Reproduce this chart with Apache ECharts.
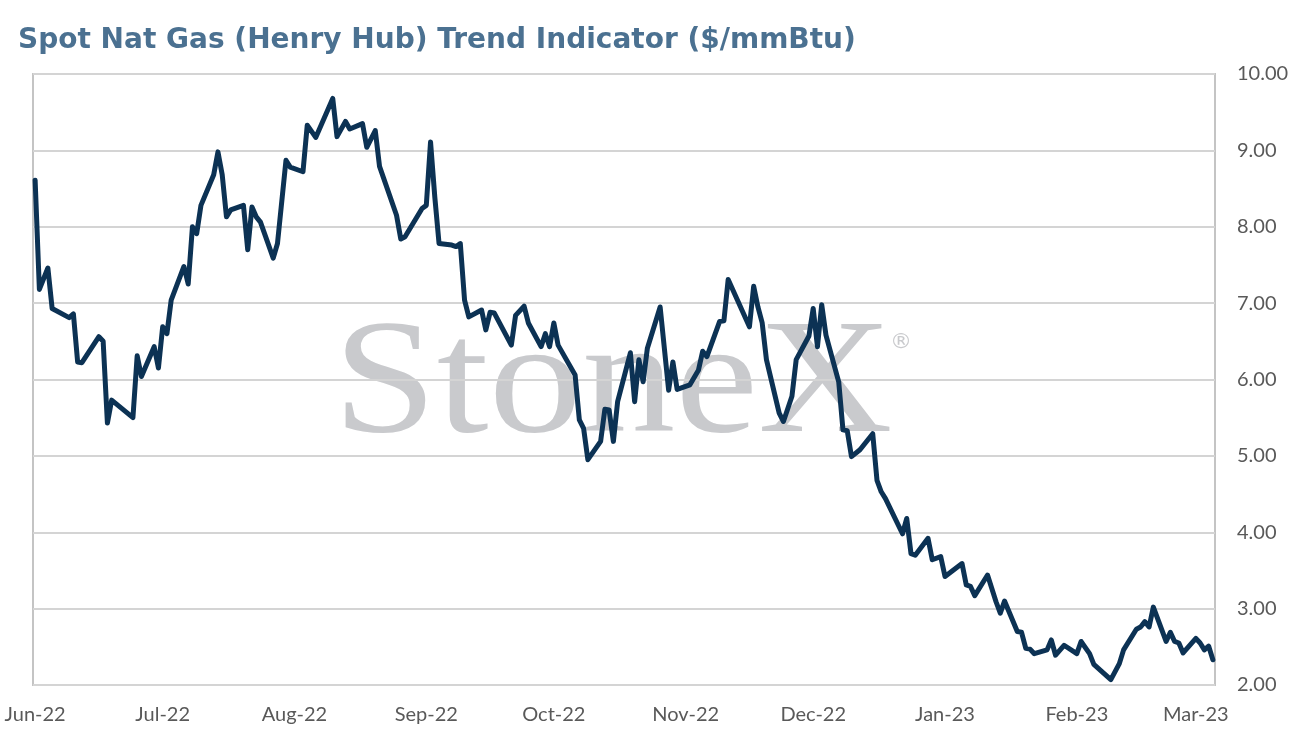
<!DOCTYPE html>
<html>
<head>
<meta charset="utf-8">
<script src="https://cdn.jsdelivr.net/npm/echarts@6/dist/echarts.min.js"></script>
<style>html,body{margin:0;padding:0;background:#fff;}#c{width:1294px;height:744px;}</style>
</head>
<body>
<div id="c"></div>
<script>
const dates = [
'2022-06-01','2022-06-02','2022-06-04','2022-06-05','2022-06-09','2022-06-10','2022-06-11','2022-06-12','2022-06-16','2022-06-17','2022-06-18','2022-06-19','2022-06-24','2022-06-25','2022-06-26','2022-06-29','2022-06-30',
'2022-07-01','2022-07-02','2022-07-03','2022-07-06','2022-07-07','2022-07-08','2022-07-09','2022-07-10','2022-07-13','2022-07-14','2022-07-15','2022-07-16','2022-07-17','2022-07-20','2022-07-21','2022-07-22','2022-07-23','2022-07-24','2022-07-27','2022-07-28','2022-07-30','2022-07-31',
'2022-08-03','2022-08-04','2022-08-06','2022-08-10','2022-08-11','2022-08-13','2022-08-14','2022-08-17','2022-08-18','2022-08-20','2022-08-21','2022-08-25','2022-08-26','2022-08-27','2022-08-31',
'2022-09-01','2022-09-02','2022-09-03','2022-09-04','2022-09-07','2022-09-08','2022-09-09','2022-09-10','2022-09-11','2022-09-14','2022-09-15','2022-09-16','2022-09-17','2022-09-21','2022-09-22','2022-09-24','2022-09-25','2022-09-28','2022-09-29','2022-09-30',
'2022-10-01','2022-10-02','2022-10-06','2022-10-07','2022-10-08','2022-10-09','2022-10-12','2022-10-13','2022-10-14','2022-10-15','2022-10-16','2022-10-19','2022-10-20','2022-10-21','2022-10-22','2022-10-23','2022-10-26','2022-10-28','2022-10-29','2022-10-30',
'2022-11-02','2022-11-04','2022-11-05','2022-11-06','2022-11-09','2022-11-10','2022-11-11','2022-11-16','2022-11-17','2022-11-18','2022-11-19','2022-11-20','2022-11-23','2022-11-24','2022-11-26','2022-11-27','2022-11-30',
'2022-12-01','2022-12-02','2022-12-03','2022-12-04','2022-12-07','2022-12-08','2022-12-09','2022-12-10','2022-12-12','2022-12-15','2022-12-16','2022-12-17','2022-12-18','2022-12-22','2022-12-23','2022-12-24','2022-12-25','2022-12-28','2022-12-29','2022-12-31',
'2023-01-01','2023-01-05','2023-01-06','2023-01-07','2023-01-08','2023-01-11','2023-01-13','2023-01-14','2023-01-15','2023-01-18','2023-01-19','2023-01-20','2023-01-21','2023-01-22','2023-01-25','2023-01-26','2023-01-27','2023-01-29',
'2023-02-01','2023-02-02','2023-02-04','2023-02-05','2023-02-09','2023-02-11','2023-02-12','2023-02-15','2023-02-16','2023-02-17','2023-02-18','2023-02-19','2023-02-22','2023-02-23','2023-02-24','2023-02-25','2023-02-26',
'2023-03-01','2023-03-02','2023-03-03','2023-03-04','2023-03-05'
];
const prices = [
8.61,7.18,7.46,6.93,6.81,6.86,6.23,6.22,6.56,6.50,5.43,5.73,5.50,6.31,6.04,6.43,6.15,
6.69,6.60,7.04,7.48,7.25,8.00,7.91,8.28,8.68,8.98,8.68,8.13,8.22,8.28,7.70,8.26,8.13,8.06,7.59,7.78,8.87,8.78,
8.72,9.33,9.17,9.68,9.18,9.38,9.28,9.35,9.04,9.26,8.79,8.15,7.84,7.87,8.24,
8.28,9.11,8.39,7.78,7.76,7.74,7.78,7.04,6.82,6.91,6.65,6.88,6.87,6.45,6.84,6.96,6.74,6.43,6.60,6.43,
6.74,6.45,6.06,5.47,5.36,4.95,5.19,5.61,5.60,5.19,5.71,6.35,5.71,6.26,5.97,6.41,6.95,5.86,6.23,5.87,
5.93,6.12,6.37,6.30,6.76,6.77,7.31,6.69,7.22,6.95,6.74,6.26,5.56,5.45,5.78,6.26,6.57,
6.93,6.43,6.98,6.58,5.97,5.34,5.33,4.99,5.08,5.29,4.68,4.53,4.44,3.98,4.18,3.72,3.70,3.92,3.64,3.68,
3.42,3.59,3.31,3.29,3.17,3.44,3.09,2.94,3.10,2.70,2.69,2.48,2.47,2.41,2.46,2.59,2.39,2.52,
2.41,2.57,2.41,2.27,2.07,2.28,2.46,2.73,2.76,2.83,2.76,3.02,2.57,2.69,2.57,2.55,2.42,
2.61,2.55,2.46,2.51,2.33
];
const tickDates = ['2022-06-01','2022-07-01','2022-08-01','2022-09-01','2022-10-01','2022-11-01','2022-12-01','2023-01-01','2023-02-01','2023-03-01'];
const tickLabels = ['Jun-22','Jul-22','Aug-22','Sep-22','Oct-22','Nov-22','Dec-22','Jan-23','Feb-23','Mar-23'];
const yTicks = [2,3,4,5,6,7,8,9,10];

function ts(s){ const p = s.split(/[- :]/).map(Number); return Date.UTC(p[0], p[1]-1, p[2], p[3]||0, p[4]||0); }
const tickTs = tickDates.map(ts);
const labelMap = {}; tickTs.forEach((t,i)=>{ labelMap[t] = tickLabels[i]; });

const chart = echarts.init(document.getElementById('c'));
chart.setOption({
  animation: false,
  backgroundColor: '#ffffff',
  title: {
    text: 'Spot Nat Gas (Henry Hub) Trend Indicator ($/mmBtu)',
    left: 13, top: 22,
    textStyle: { fontFamily: 'DejaVu Sans', fontWeight: 'bold', fontSize: 28, color: '#4b7191' }
  },
  grid: { left: 33, right: 79, top: 74, bottom: 59, show: true, borderColor: '#c4c4c4', borderWidth: 2, containLabel: false },
  graphic: [
    { type: 'text', x: 333, y: 307, scaleX: 1.145, z: -10, silent: true,
      style: { text: 'StoneX', font: '163px "Liberation Serif"', fill: '#c9cacd', verticalAlign: 'top', align: 'left' } },
    { type: 'text', left: 890, top: 331, z: -10, silent: true,
      style: { text: '\u00AE', font: '22px "DejaVu Sans"', fill: '#c9cacd' } }
  ],
  xAxis: {
    type: 'value',
    min: ts('2022-05-31 12:00'),
    max: ts('2023-03-05 12:00'),
    axisLine: { show: false },
    axisTick: { show: false },
    splitLine: { show: false },
    axisLabel: {
      customValues: tickTs,
      margin: 20,
      fontFamily: 'Lato', fontSize: 20, color: '#595959',
      formatter: function(v){ return labelMap[v] || ''; }
    }
  },
  yAxis: {
    type: 'value',
    position: 'right',
    min: 2, max: 10, interval: 1,
    axisLine: { show: false },
    axisTick: { show: false },
    splitLine: { show: true, lineStyle: { color: '#d4d4d4', width: 2 } },
    axisLabel: {
      margin: 22,
      fontFamily: 'Lato', fontSize: 20, color: '#595959',
      formatter: function(v){ return yTicks.indexOf(v) >= 0 ? v.toFixed(2) : ''; }
    }
  },
  series: [{
    type: 'line',
    data: dates.map((d,i)=>[ts(d), prices[i]]),
    showSymbol: false,
    symbol: 'none',
    lineStyle: { color: '#0c3254', width: 5, join: 'round', cap: 'round' },
    z: 5
  }]
});
</script>
</body>
</html>
